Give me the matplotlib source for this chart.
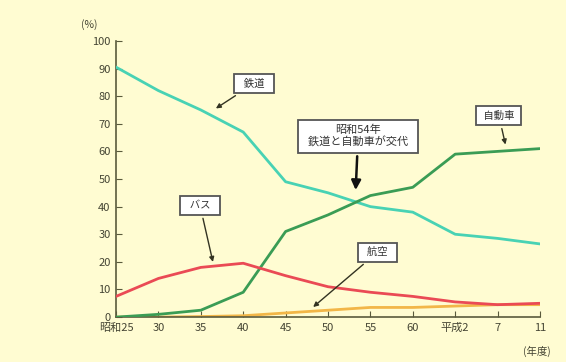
import matplotlib.pyplot as plt

plt.rcParams["font.family"] = ["Noto Sans CJK JP", "DejaVu Sans"]

nendo = ["昭和25", "30", "35", "40", "45", "50", "55", "60", "平成2", "7", "11"]
tetsudo = [90.5, 82, 75, 67, 49, 45, 40, 38, 30, 28.5, 26.5]
jidosha = [0, 1, 2.5, 9, 31, 37, 44, 47, 59, 60, 61]
basu = [7.5, 14, 18, 19.5, 15, 11, 9, 7.5, 5.5, 4.5, 5]
koku = [0, 0, 0.2, 0.5, 1.5, 2.5, 3.5, 3.5, 4, 4.5, 4.5]

haikei = "#fffcd2"
jiku = "#5a5a3c"

fig = plt.figure(figsize=(5.66, 3.62), dpi=100, facecolor=haikei)
ax = fig.add_axes([0.205, 0.124, 0.749, 0.763], facecolor=haikei)

x = range(len(nendo))
ax.plot(x, tetsudo, color="#48d2b4", lw=2, zorder=3)
ax.plot(x, jidosha, color="#3a9c55", lw=2, zorder=3)
ax.plot(x, basu, color="#ea4a55", lw=2, zorder=3)
ax.plot(x, koku, color="#f2b648", lw=2, zorder=2)

ax.set_xlim(0, 10)
ax.set_ylim(0, 100)
ax.set_xticks(list(x))
ax.set_xticklabels(nendo)
ax.set_yticks(range(0, 101, 10))
for s in ["top", "right"]:
    ax.spines[s].set_visible(False)
for s in ["left", "bottom"]:
    ax.spines[s].set_color(jiku)
    ax.spines[s].set_linewidth(1.2)
ax.tick_params(direction="in", length=4, color=jiku, labelcolor="#444433",
               labelsize=8, pad=4)

waku = dict(boxstyle="square,pad=0.45", fc="white", ec="#555555", lw=1.3)
ya = dict(arrowstyle="-|>", color="#333322", lw=1, mutation_scale=7)

def fuda(txt, xy, xytext, arrow=ya, size=7.5):
    ax.annotate(txt, xy=xy, xytext=xytext, textcoords="data", fontsize=size,
                ha="center", va="center", color="#333333", bbox=waku,
                arrowprops=arrow, zorder=5)

fuda("  鉄道  ", (2.3, 75), (3.25, 84.5))
fuda(" 自動車 ", (9.2, 61.5), (9.03, 73))
fuda("  バス  ", (2.3, 19), (1.98, 40.5))
fuda("  航空  ", (4.6, 3), (6.17, 23.5))
fuda("昭和54年\n  鉄道と自動車が交代  ", (5.65, 45), (5.71, 65.5),
     dict(arrowstyle="-|>", color="#111111", lw=1.8, mutation_scale=14), size=8)

fig.text(0.158, 0.933, "(%)", fontsize=7.5, color="#444433", ha="center", va="center")
fig.text(0.948, 0.03, "(年度)", fontsize=7.5, color="#444433", ha="center", va="center")

fig.savefig("out.png", dpi=100, facecolor=haikei)
